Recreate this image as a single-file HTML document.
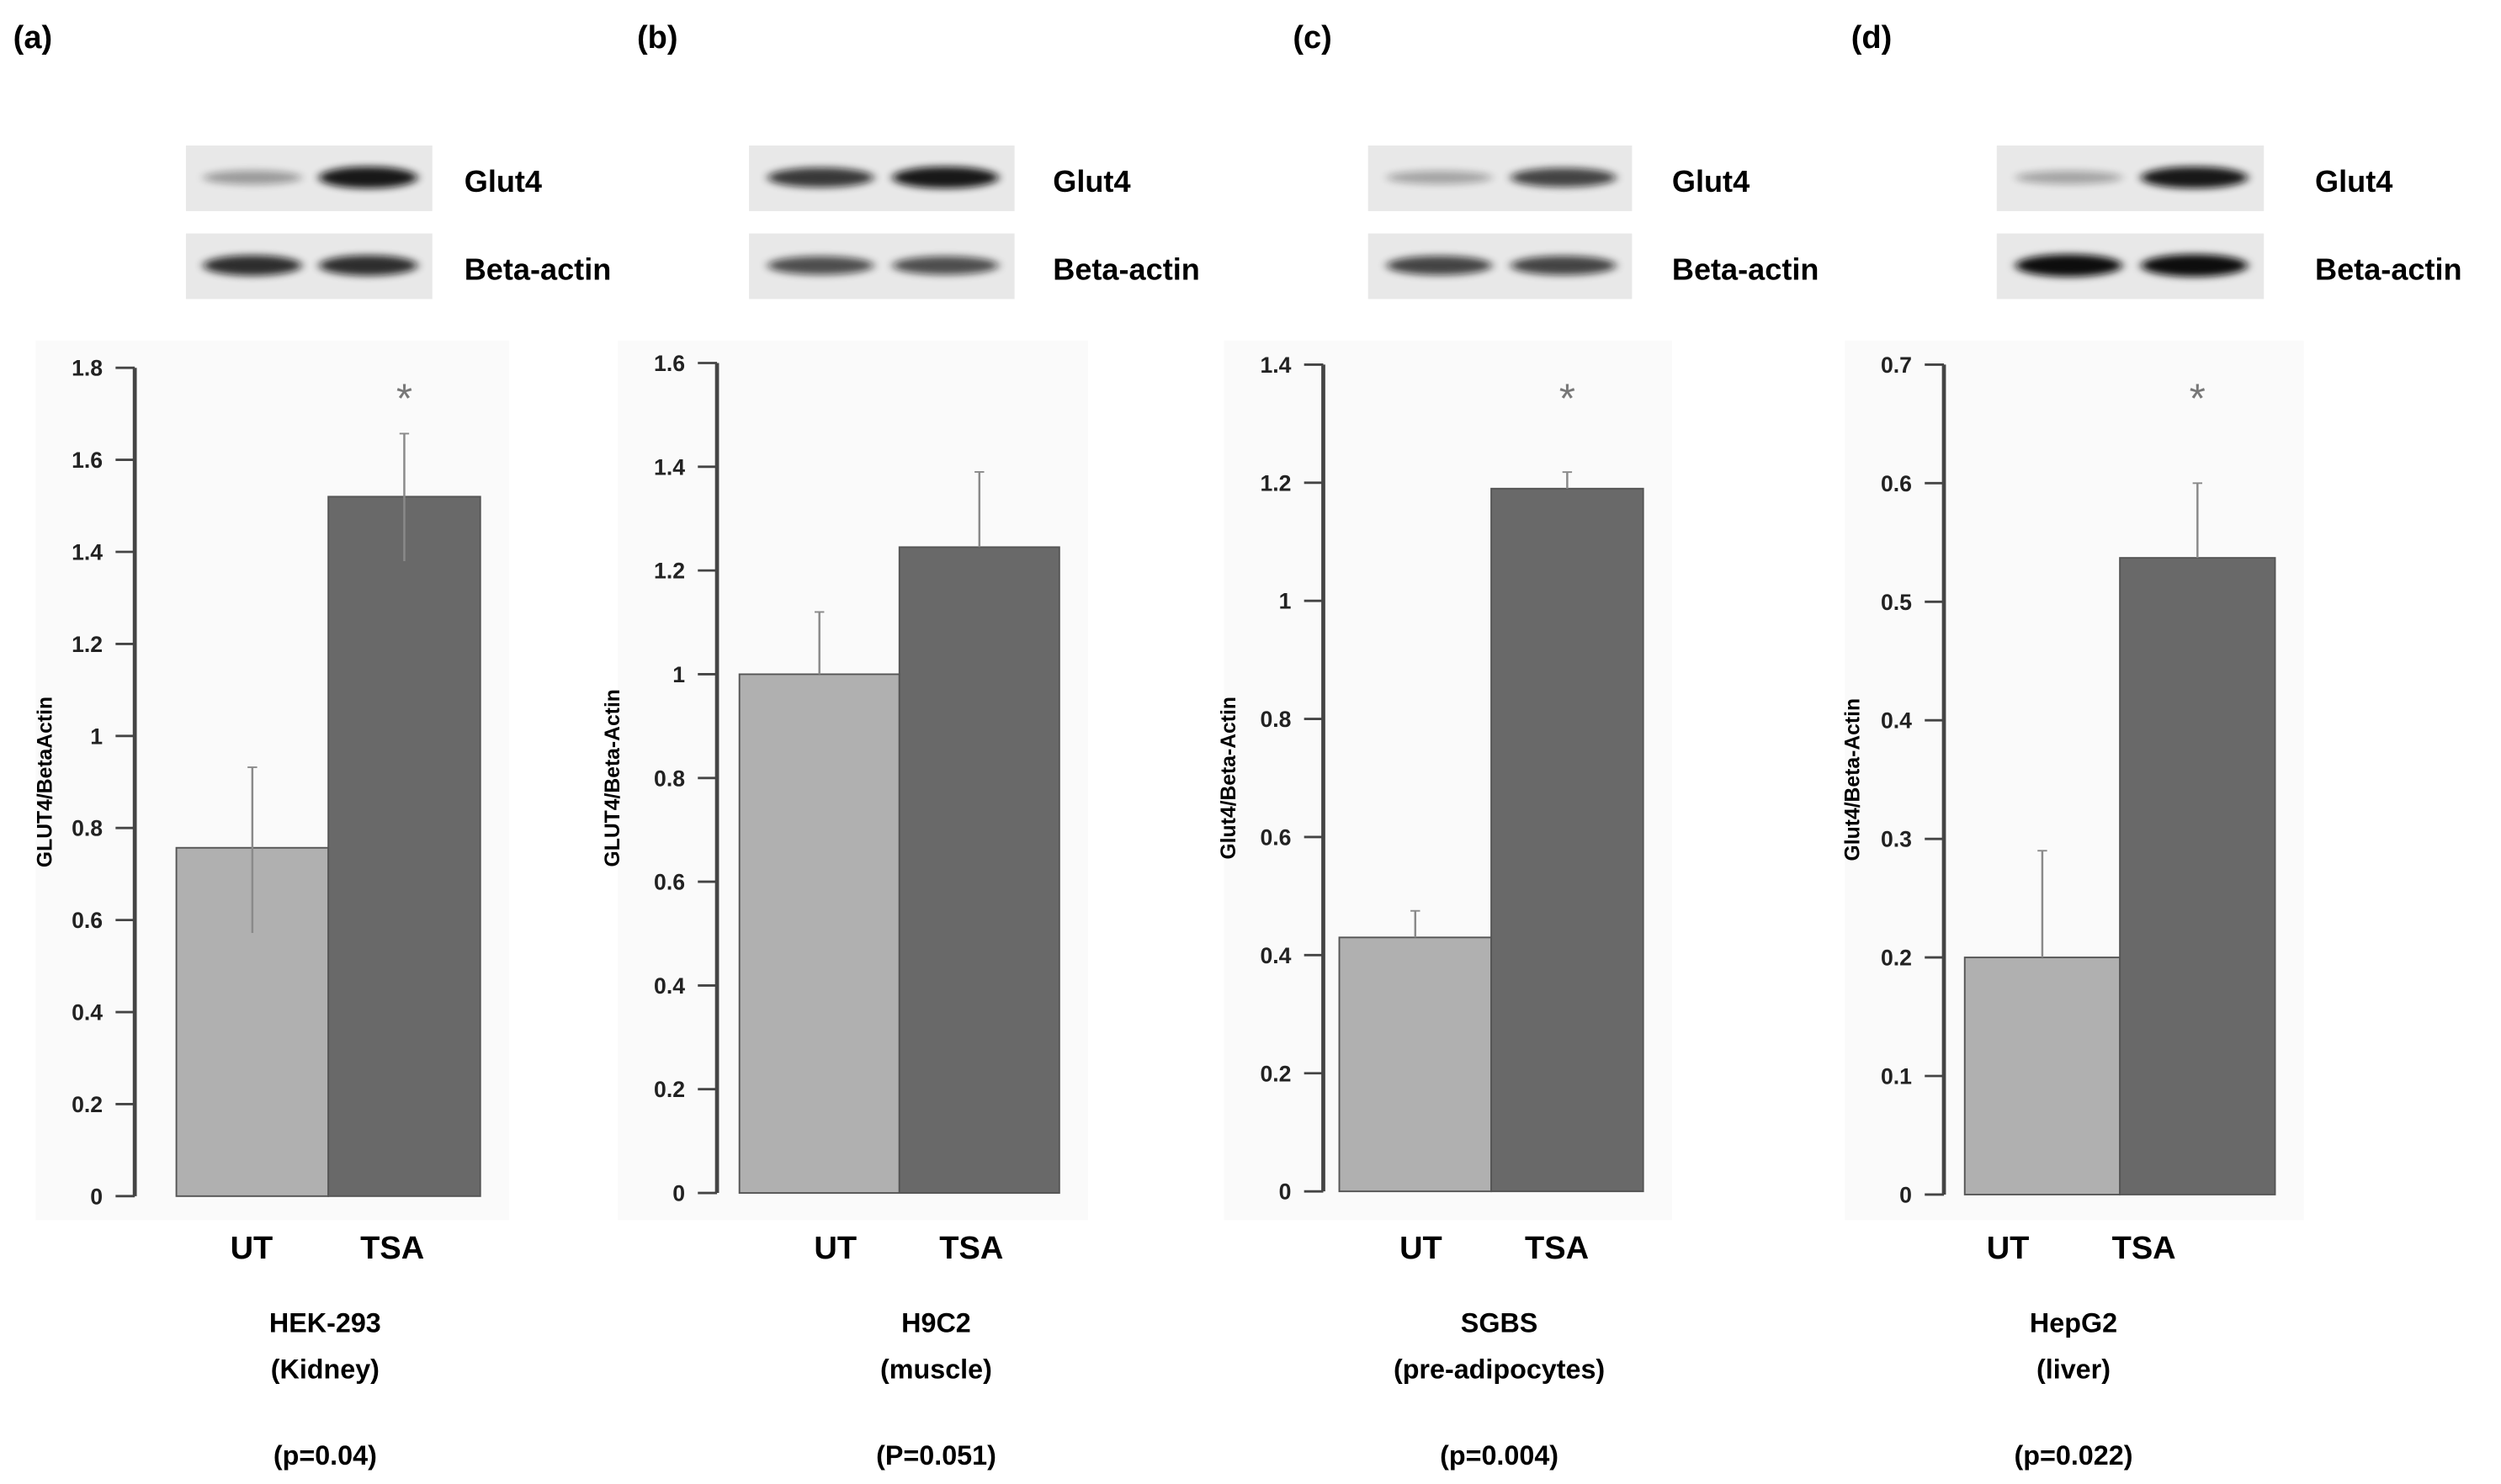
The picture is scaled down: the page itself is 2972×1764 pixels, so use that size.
<!DOCTYPE html>
<html><head><meta charset="utf-8">
<style>
html,body{margin:0;padding:0;background:#fff;}
svg{display:block;font-family:"Liberation Sans",Arial,sans-serif;font-weight:bold;}
</style></head>
<body>
<svg id="fig" width="2972" height="1764" viewBox="0 0 1563 928" xmlns="http://www.w3.org/2000/svg">
<defs>
<filter id="blur" x="-20%" y="-100%" width="140%" height="300%"><feGaussianBlur stdDeviation="3 2.2"/></filter>
</defs>
<g id="root"></g>
</svg>
<script>
// Chart data
const categories = ["UT", "TSA"];
const panelLetters = ["(a)", "(b)", "(c)", "(d)"];
const cellLines = ["HEK-293", "H9C2", "SGBS", "HepG2"];
const tissues = ["(Kidney)", "(muscle)", "(pre-adipocytes)", "(liver)"];
const pValues = ["(p=0.04)", "(P=0.051)", "(p=0.004)", "(p=0.022)"];
const yTitles = ["GLUT4/BetaActin", "GLUT4/Beta-Actin", "Glut4/Beta-Actin", "Glut4/Beta-Actin"];
const yMax = [1.8, 1.6, 1.4, 0.7];
const yStep = [0.2, 0.2, 0.2, 0.1];
const tickLabelsA = ["0","0.2","0.4","0.6","0.8","1","1.2","1.4","1.6","1.8"];
const tickLabelsB = ["0","0.2","0.4","0.6","0.8","1","1.2","1.4","1.6"];
const tickLabelsC = ["0","0.2","0.4","0.6","0.8","1","1.2","1.4"];
const tickLabelsD = ["0","0.1","0.2","0.3","0.4","0.5","0.6","0.7"];
const utValues = [0.757, 1.0, 0.43, 0.2];
const tsaValues = [1.52, 1.245, 1.19, 0.537];
const utErrUp = [0.175, 0.12, 0.045, 0.09];
const tsaErrUp = [0.137, 0.145, 0.028, 0.063];
const utErrDown = [0.185, 0, 0, 0];
const tsaErrDown = [0.14, 0, 0, 0];
const significant = [true, false, true, true];
const glutBands = [[0.35, 0.95], [0.8, 0.95], [0.3, 0.75], [0.3, 0.95]];
const actinBands = [[0.85, 0.85], [0.7, 0.7], [0.75, 0.75], [1.0, 1.0]];

// Layout (not data)
const L = [
 {lx:8, axX:84, y0:748, yTop:230, b0:110, bw:95, blotX:116, blotW:154, labX:290, ttlX:32, catX:[157,245], capX:203},
 {lx:398, axX:448, y0:746, yTop:227, b0:462, bw:100, blotX:468, blotW:166, labX:658, ttlX:387, catX:[522,607], capX:585},
 {lx:808, axX:827, y0:745, yTop:228, b0:837, bw:95, blotX:855, blotW:165, labX:1045, ttlX:772, catX:[888,973], capX:937},
 {lx:1157, axX:1215, y0:747, yTop:228, b0:1228, bw:97, blotX:1248, blotW:167, labX:1447, ttlX:1162, catX:[1255,1340], capX:1296}
];
const tickSets = [tickLabelsA, tickLabelsB, tickLabelsC, tickLabelsD];
const NS = "http://www.w3.org/2000/svg";
const root = document.getElementById("root");
function mk(tag, attrs, parent, text) {
  const e = document.createElementNS(NS, tag);
  for (const k in attrs) e.setAttribute(k, attrs[k]);
  if (text !== undefined) e.textContent = text;
  (parent || root).appendChild(e);
  return e;
}
for (let p = 0; p < 4; p++) {
  const c = L[p];
  const g = mk("g", {});
  
  
  const yS = v => c.y0 - (v / yMax[p]) * (c.y0 - c.yTop);
  const xS = i => c.b0 + i * c.bw;
  const pl = mk("text", {x:c.lx, y:30, "font-size":20}, g, panelLetters[p]);
  
  
  const bg = mk("rect", {x:c.axX-62, y:213, width:c.b0+2*c.bw-c.axX+80, height:550, fill:"#fafafa"}, g);
  
  
  const blots = [[glutBands[p], 91, "Glut4"], [actinBands[p], 146, "Beta-actin"]];
  blots.forEach(([bands, by, lab]) => {
    const bl = mk("g", {}, g);
    
    
    mk("rect", {x:c.blotX, y:by, width:c.blotW, height:41, fill:"#e8e8e8"}, bl);
    bands.forEach((inten, i) => {
      const w = c.blotW * 0.4;
      const cx = c.blotX + c.blotW * (i === 0 ? 0.27 : 0.74);
      mk("ellipse", {cx:cx, cy:by+20, rx:w/2, ry:3 + inten*4, fill:"#111", opacity:inten, filter:"url(#blur)"}, bl);
    });
    const t = mk("text", {x:c.labX, y:by+29, "font-size":19}, g, lab);
    
    
  });
  const vals = [utValues[p], tsaValues[p]];
  const up = [utErrUp[p], tsaErrUp[p]];
  const dn = [utErrDown[p], tsaErrDown[p]];
  const fills = ["#b0b0b0", "#696969"];
  vals.forEach((v, i) => {
    const r = mk("rect", {x:xS(i), y:yS(v), width:c.bw, height:c.y0 - yS(v), fill:fills[i], stroke:"#555", "stroke-width":1}, g);
    
    
    const ex = xS(i) + c.bw / 2;
    const eb = mk("line", {x1:ex, x2:ex, y1:yS(v + up[i]), y2:yS(v - dn[i]), stroke:"#8a8a8a", "stroke-width":1.3}, g);
    
    
    mk("line", {x1:ex-3, x2:ex+3, y1:yS(v + up[i]), y2:yS(v + up[i]), stroke:"#8a8a8a", "stroke-width":1}, g);
    const cl = mk("text", {x:c.catX[i], y:787, "font-size":20, "text-anchor":"middle"}, g, categories[i]);
    
    
  });
  if (significant[p]) {
    const st = mk("text", {x:xS(1)+c.bw/2, y:258, "font-size":26, "text-anchor":"middle", fill:"#777", "font-weight":"normal"}, g, "*");
    
    
  }
  const ax = mk("line", {x1:c.axX, x2:c.axX, y1:c.yTop, y2:c.y0, stroke:"#444", "stroke-width":2.5}, g);
  
  
  const tl = tickSets[p];
  tl.forEach((lab, k) => {
    const y = yS(k * yStep[p]);
    mk("line", {x1:c.axX-12, x2:c.axX, y1:y, y2:y, stroke:"#444", "stroke-width":1.5}, g);
    const t = mk("text", {x:c.axX-20, y:y+5, "font-size":14, "text-anchor":"end", fill:"#222"}, g, lab);
    
    
  });
  const yc = (c.y0 + c.yTop) / 2;
  const yt = mk("text", {x:c.ttlX, y:yc, "font-size":13, "text-anchor":"middle", transform:"rotate(-90 "+c.ttlX+" "+yc+")"}, g, yTitles[p]);
  
  
  const caps = [[cellLines[p], 833], [tissues[p], 862], [pValues[p], 916]];
  caps.forEach(([s, y], i) => {
    const t = mk("text", {x:c.capX, y:y, "font-size":17, "text-anchor":"middle"}, g, s);
    
    
  });
}
</script>
</body></html>
